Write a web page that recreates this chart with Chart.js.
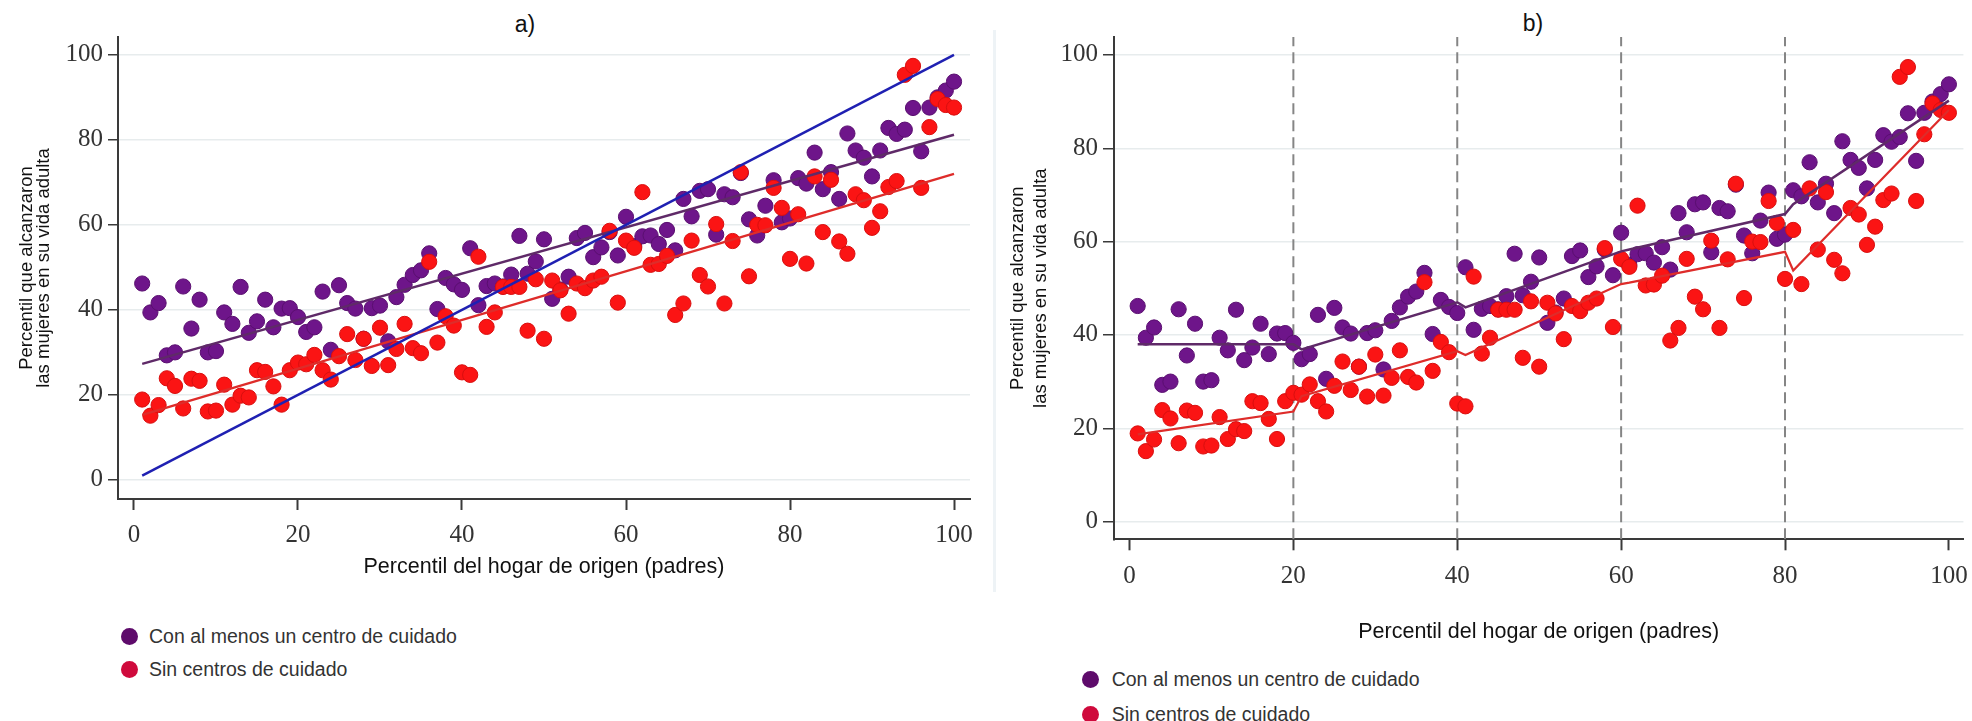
<!DOCTYPE html>
<html>
<head>
<meta charset="utf-8">
<script src="https://cdn.jsdelivr.net/npm/chart.js@4.4.1/dist/chart.umd.min.js"></script>
<style>
  html, body { margin: 0; padding: 0; background: #ffffff; }
  body { width: 1972px; height: 721px; position: relative; overflow: hidden;
         font-family: "Liberation Sans", Arial, sans-serif; }
  .panel { position: absolute; }
  #wrapA { left: 0; top: 0; width: 990px; height: 600px; }
  #wrapB { left: 1000px; top: 0; width: 972px; height: 660px; }
  .ptitle { position: absolute; font-size: 23px; color: #111; line-height: 1;
            transform: translate(-50%, -50%); white-space: nowrap; }
  .divider { position: absolute; left: 993px; top: 30px; width: 3px; height: 562px; background: #eef3f6; }
  .legend { position: absolute; font-size: 19.5px; color: #333; }
  .legend .item { position: absolute; left: 0; height: 26px; display: flex; align-items: center; white-space: nowrap; }
  .legend .dot { display: inline-block; width: 17px; height: 17px; border-radius: 50%; }
</style>
</head>
<body>
<div class="ptitle" style="left:525px; top:24px;">a)</div>
<div class="ptitle" style="left:1533px; top:23px;">b)</div>
<div class="divider"></div>
<div class="panel" id="wrapA"><canvas id="chartA" width="990" height="600"></canvas></div>
<div class="panel" id="wrapB"><canvas id="chartB" width="972" height="660"></canvas></div>
<div class="legend" id="legendA" style="left:120.5px; top:623.7px;"></div>
<div class="legend" id="legendB" style="left:1082.2px; top:666.3px;"></div>

<script>
// Parent-household percentile (x) for every plotted point
const percentiles = [
  1, 2, 3, 4, 5, 6, 7, 8, 9, 10, 11, 12, 13, 14, 15, 16, 17, 18, 19, 20,
  21, 22, 23, 24, 25, 26, 27, 28, 29, 30, 31, 32, 33, 34, 35, 36, 37, 38, 39, 40,
  41, 42, 43, 44, 45, 46, 47, 48, 49, 50, 51, 52, 53, 54, 55, 56, 57, 58, 59, 60,
  61, 62, 63, 64, 65, 66, 67, 68, 69, 70, 71, 72, 73, 74, 75, 76, 77, 78, 79, 80,
  81, 82, 83, 84, 85, 86, 87, 88, 89, 90, 91, 92, 93, 94, 95, 96, 97, 98, 99, 100
];

// Adult percentile reached by women: at least one care centre
const conCentro = [
  46.2, 39.4, 41.6, 29.3, 30.0, 45.5, 35.6, 42.4, 30.0, 30.3,
  39.4, 36.7, 45.4, 34.6, 37.3, 42.4, 35.9, 40.3, 40.4, 38.3,
  34.8, 35.9, 44.3, 30.6, 45.8, 41.6, 40.3, 33.2, 40.4, 41.0,
  32.6, 43.0, 45.9, 48.2, 49.3, 53.3, 40.2, 47.5, 46.0, 44.7,
  54.5, 41.1, 45.6, 46.2, 45.5, 48.3, 57.4, 48.5, 51.4, 56.6,
  42.6, 44.8, 47.8, 56.9, 58.1, 52.4, 54.7, 58.3, 52.8, 61.9,
  55.0, 57.3, 57.5, 55.5, 58.8, 54.0, 66.1, 62.0, 68.0, 68.4,
  57.7, 67.2, 66.5, 72.2, 61.3, 57.5, 64.5, 70.5, 60.6, 61.5,
  71.0, 69.7, 77.0, 68.4, 72.4, 66.1, 81.5, 77.5, 75.8, 71.4,
  77.5, 82.8, 81.4, 82.4, 87.5, 77.3, 87.6, 90.0, 91.6, 93.7
];

// Adult percentile reached by women: no care centre
const sinCentro = [
  18.9, 15.1, 17.6, 23.9, 22.1, 16.8, 23.8, 23.3, 16.1, 16.3,
  22.4, 17.7, 19.8, 19.4, 25.8, 25.4, 22.0, 17.7, 25.8, 27.6,
  27.2, 29.4, 25.8, 23.6, 29.1, 34.3, 28.2, 33.2, 26.8, 35.8,
  27.0, 30.8, 36.7, 31.0, 29.8, 51.3, 32.3, 38.5, 36.3, 25.3,
  24.7, 52.5, 36.0, 39.4, 45.4, 45.4, 45.4, 35.1, 47.2, 33.2,
  46.9, 44.6, 39.1, 46.2, 45.1, 46.9, 47.8, 58.6, 41.7, 56.3,
  54.6, 67.7, 50.6, 50.8, 52.7, 38.8, 41.5, 56.3, 48.2, 45.5,
  60.2, 41.5, 56.2, 72.4, 47.9, 60.0, 59.9, 68.7, 64.0, 52.0,
  62.5, 50.9, 71.4, 58.3, 70.6, 56.1, 53.2, 67.2, 65.8, 59.3,
  63.2, 68.9, 70.3, 95.3, 97.4, 68.7, 83.0, 89.6, 88.2, 87.6
];

const seriesNames = ['Con al menos un centro de cuidado', 'Sin centros de cuidado'];
const xTickValues = [0, 20, 40, 60, 80, 100];
const yTickValues = [0, 20, 40, 60, 80, 100];
const xTitle = 'Percentil del hogar de origen (padres)';
const yTitle = ['Percentil que alcanzaron', 'las mujeres en su vida adulta'];

// Panel a): overall linear fits and the 45-degree reference line
const fitX = [1, 100];
const diagonalY = [1, 100];
const conFitY = [27.3, 81.2];
const sinFitY = [15.3, 72.0];

// Panel b): fits estimated separately within each quintile of origin
const quintileBreaks = [20, 40, 60, 80];
const segX = [1, 20, 21, 40, 41, 60, 61, 80, 81, 100];
const conSegY = [38.0, 38.0, 36.9, 47.0, 45.9, 57.9, 58.3, 65.9, 68.0, 90.2];
const sinSegY = [18.7, 23.6, 26.9, 36.5, 35.7, 50.9, 51.2, 57.8, 53.8, 88.2];

// Colours
const purplePoint = '#6e158a', purpleEdge = '#5a0f70';
const redPoint = '#fb1414', redEdge = '#d80f0f';
const purpleLine = '#5f2a68', redLine = '#de2c2a', blueLine = '#1f20b2';
const legendColors = ['#5e0b6b', '#cf0a3c'];
const axisColor = '#3a3a3a';

const pts = (xs, ys) => xs.map((x, i) => ({ x: x, y: ys[i] }));

function pointSet(label, ys, fill, edge, order) {
  return {
    label: label, data: pts(percentiles, ys), order: order,
    backgroundColor: fill, borderColor: edge, borderWidth: 1,
    pointRadius: 7.6, pointHoverRadius: 7.6
  };
}
function lineSet(label, xs, ys, color, width, order, dash) {
  return {
    label: label, data: pts(xs, ys), order: order, showLine: true,
    borderColor: color, borderWidth: width, borderDash: dash || [],
    pointRadius: 0, pointHoverRadius: 0, fill: false, tension: 0
  };
}

function scalesFor(p) {
  return {
    x: {
      type: 'linear', min: p.xMin, max: p.xMax,
      afterBuildTicks: s => { s.ticks = xTickValues.map(v => ({ value: v })); },
      afterFit: s => { s.height = p.xHeight; s.paddingLeft = 0; s.paddingRight = 0; },
      grid: { drawOnChartArea: false, drawTicks: true, tickLength: 11, tickColor: axisColor, tickWidth: 2 },
      border: { display: true, color: axisColor, width: 2 },
      ticks: { autoSkip: false, maxRotation: 0, padding: p.xTickPad, color: '#333',
               font: { family: '"Liberation Serif", "Times New Roman", serif', size: 25 } },
      title: { display: true, text: xTitle, color: '#111',
               font: { family: '"Liberation Sans", Arial, sans-serif', size: 21.5, lineHeight: 1.2 },
               padding: { top: 0, bottom: p.xTitlePad } }
    },
    y: {
      type: 'linear', min: p.yMin, max: p.yMax,
      afterBuildTicks: s => { s.ticks = yTickValues.map(v => ({ value: v })); },
      afterFit: s => { s.width = p.yWidth; s.paddingTop = 0; s.paddingBottom = 0; },
      grid: { drawOnChartArea: true, color: '#e7eced', lineWidth: 1.5, drawTicks: true,
              tickLength: p.yTickLen, tickColor: axisColor, tickWidth: 1.5 },
      border: { display: true, color: axisColor, width: 2 },
      ticks: { autoSkip: false, padding: 5, color: '#333',
               font: { family: '"Liberation Serif", "Times New Roman", serif', size: 25 } },
      title: { display: true, text: yTitle, color: '#111',
               font: { family: '"Liberation Sans", Arial, sans-serif', size: 18.5, lineHeight: p.yTitleLH },
               padding: { top: p.yTitlePad, bottom: 0 } }
    }
  };
}

function makeChart(canvasId, p, datasets) {
  return new Chart(document.getElementById(canvasId), {
    type: 'scatter',
    data: { datasets: datasets },
    options: {
      responsive: false, animation: false, devicePixelRatio: 1,
      layout: { padding: { left: 0, top: 37, right: p.padRight, bottom: 0 } },
      plugins: { legend: { display: false }, tooltip: { enabled: false }, title: { display: false } },
      scales: scalesFor(p)
    }
  });
}

// Panel a)
const panelA = { xMin: -1.95, xMax: 101.95, yMin: -4.5, yMax: 104.2, yWidth: 118, xHeight: 101,
                 padRight: 20, xTickPad: 10, xTitlePad: 20.4, yTickLen: 10, yTitleLH: 0.92, yTitlePad: 18.3 };
makeChart('chartA', panelA, [
  lineSet('45°', fitX, diagonalY, blueLine, 2.5, 0),
  lineSet(seriesNames[0] + ' (ajuste)', fitX, conFitY, purpleLine, 2.5, 0),
  lineSet(seriesNames[1] + ' (ajuste)', fitX, sinFitY, redLine, 2.2, 0),
  pointSet(seriesNames[1], sinCentro, redPoint, redEdge, 1),
  pointSet(seriesNames[0], conCentro, purplePoint, purpleEdge, 2)
]);

// Panel b)
const panelB = { xMin: -1.89, xMax: 101.77, yMin: -3.79, yMax: 103.84, yWidth: 114, xHeight: 120.7,
                 padRight: 8, xTickPad: 11.4, xTitlePad: 15.4, yTickLen: 11, yTitleLH: 1.243, yTitlePad: 6.8 };
const breakSets = quintileBreaks.map(b =>
  lineSet('corte ' + b, [b, b], [panelB.yMin, panelB.yMax], '#858585', 2, 3, [11, 6]));
makeChart('chartB', panelB, [
  lineSet(seriesNames[0] + ' (ajuste por quintil)', segX, conSegY, purpleLine, 2.5, 0),
  lineSet(seriesNames[1] + ' (ajuste por quintil)', segX, sinSegY, redLine, 2.2, 0),
  pointSet(seriesNames[1], sinCentro, redPoint, redEdge, 1),
  pointSet(seriesNames[0], conCentro, purplePoint, purpleEdge, 2)
].concat(breakSets));

// Legends below each panel
function buildLegend(el, rowGap, gap) {
  seriesNames.forEach((name, i) => {
    const row = document.createElement('div');
    row.className = 'item';
    row.style.top = (i * rowGap) + 'px';
    const dot = document.createElement('span');
    dot.className = 'dot';
    dot.style.background = legendColors[i];
    dot.style.marginRight = gap + 'px';
    const txt = document.createElement('span');
    txt.textContent = name;
    row.appendChild(dot);
    row.appendChild(txt);
    el.appendChild(row);
  });
}
buildLegend(document.getElementById('legendA'), 33.3, 11.5);
buildLegend(document.getElementById('legendB'), 35.7, 12.5);
</script>
</body>
</html>
